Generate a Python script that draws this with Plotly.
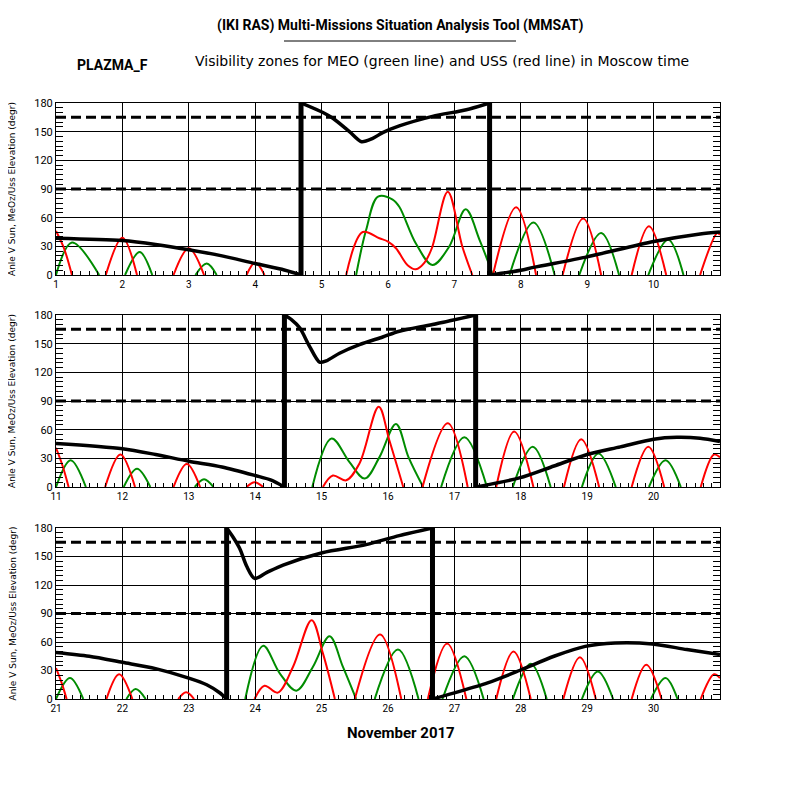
import plotly.graph_objects as go

# ---------------- data ----------------
# Panel ranges (days of November 2017)
PANEL_RANGES = [(1, 11), (11, 21), (21, 31)]
PANEL_TICKS = [list(range(1, 11)), list(range(11, 21)), list(range(21, 31))]
Y_TICKS = [0, 30, 60, 90, 120, 150, 180]
DASHED_LEVELS = [90, 165]

# Angle vs Sun (black): segments separated by None
BLACK1_X = [1.0, 2.0, 2.5, 3.0, 3.5, 4.0, 4.4, 4.69, None,
            4.69, 5.02, 5.17, 5.42, 5.6, 5.77, 5.92, 6.17, 6.67, 7.18, 7.53, None,
            7.53, 8.0, 8.19, 9.0, 10.0, 10.7, 11.0]
BLACK1_Y = [38.5, 36, 32, 26.5, 20, 12, 6, 0, None,
            180, 170, 164, 150, 139.5, 143, 149, 156, 166, 173, 180, None,
            0, 5, 8, 19, 35, 43, 45]
BLACK2_X = [11.0, 12.0, 12.5, 13.0, 13.5, 14.0, 14.25, 14.44, None,
            14.44, 14.55, 14.67, 14.82, 14.97, 15.07, 15.27, 15.57, 15.92, 16.17, 16.67, 17.32, None,
            17.32, 17.98, 18.5, 19.0, 19.5, 20.0, 20.35, 20.7, 21.0]
BLACK2_Y = [45.5, 40, 34, 27, 21, 12, 7, 0, None,
            180, 175, 166.6, 147, 130.6, 132, 140, 149, 157, 163, 170, 180, None,
            0, 9.5, 22, 34, 42, 50, 52, 51, 47.6]
BLACK3_X = [21.0, 21.5, 22.0, 22.5, 23.0, 23.27, 23.47, 23.57, None,
            23.57, 23.67, 23.77, 23.87, 23.99, 24.17, 24.42, 25.01, 25.67, 26.17, 26.67, None,
            26.67, 27.0, 27.5, 27.98, 28.5, 28.97, 29.42, 29.98, 30.5, 31.0]
BLACK3_Y = [49, 45, 38.6, 32, 22, 15, 6.3, 0, None,
            180, 170, 158, 140, 127, 133, 141, 154, 162.5, 172, 180, None,
            0, 6.5, 17, 30, 45, 55.4, 59, 58, 52, 46.7]
JUMPS = [[4.69, 7.53], [14.44, 17.32], [23.57, 26.67]]

# USS elevation (red)
RED1_X = [1.0, 1.12, 1.24, None, 1.75, 2.0, 2.22, None, 2.77, 3.0, 3.23, None,
          3.87, 4.0, 4.14, None,
          5.37, 5.62, 5.87, 6.0, 6.12, 6.3, 6.42, 6.55, 6.66, 6.9, 7.12, 7.27, None,
          7.58, 7.93, 8.23, None, 8.63, 8.94, 9.21, None, 9.67, 9.93, 10.19, None,
          10.70, 10.96, 11.0]
RED1_Y = [46, 28, 0, None, 0, 39, 0, None, 0, 28, 0, None,
          0, 13, 0, None,
          0, 45, 38.4, 35, 28, 10, 6, 13, 28, 87, 29.6, 0, None,
          0, 71, 0, None, 0, 59, 0, None, 0, 51, 0, None,
          0, 44, 42]
RED2_X = [11.0, 11.1, 11.19, None, 11.74, 11.97, 12.19, None, 12.77, 12.97, 13.17, None,
          13.87, 13.99, 14.12, None,
          15.02, 15.17, 15.37, 15.57, 15.86, 16.02, 16.23, None,
          16.52, 16.90, 17.20, None, 17.63, 17.90, 18.19, None, 18.65, 18.91, 19.18, None,
          19.67, 19.92, 20.16, None, 20.71, 20.91, 21.0]
RED2_Y = [41, 22, 0, None, 0, 34, 0, None, 0, 24, 0, None,
          0, 5, 0, None,
          0, 12, 7, 24.5, 84, 49, 0, None,
          0, 66.7, 0, None, 0, 58, 0, None, 0, 50, 0, None,
          0, 42, 0, None, 0, 34, 31]
RED3_X = [21.0, 21.08, 21.16, None, 21.76, 21.95, 22.15, None, 22.84, 22.96, 23.08, None,
          23.99, 24.14, 24.34, 24.57, 24.85, 25.02, 25.20, None,
          25.50, 25.88, 26.2, None, 26.60, 26.89, 27.18, None, 27.63, 27.89, 28.15, None,
          28.64, 28.89, 29.13, None, 29.67, 29.89, 30.12, None, 30.71, 30.91, 31.0]
RED3_Y = [32.6, 18, 0, None, 0, 26, 0, None, 0, 7, 0, None,
          0, 14, 6.7, 34, 83, 48, 0, None,
          0, 68, 0, None, 0, 58.5, 0, None, 0, 50, 0, None,
          0, 44, 0, None, 0, 36, 0, None, 0, 26, 22]

# MEO elevation (green)
GREEN1_X = [1.0, 1.24, 1.65, None, 2.04, 2.26, 2.45, None, 3.10, 3.27, 3.42, None,
            5.52, 5.67, 5.85, 6.07, 6.17, 6.42, 6.67, 6.92, 7.17, 7.38, 7.58, None,
            7.83, 8.19, 8.51, None, 8.88, 9.21, 9.48, None, 9.92, 10.22, 10.45]
GREEN1_Y = [0, 34, 0, None, 0, 24, 0, None, 0, 12, 0, None,
            0, 47, 82, 79, 71.5, 33, 10.5, 29.6, 68.7, 36.6, 0, None,
            0, 55, 0, None, 0, 44, 0, None, 0, 37, 0]
GREEN2_X = [11.0, 11.22, 11.45, None, 12.02, 12.22, 12.42, None, 13.09, 13.23, 13.37, None,
            14.86, 15.15, 15.42, 15.65, 15.87, 16.12, 16.31, 16.53, None,
            16.80, 17.15, 17.49, None, 17.88, 18.18, 18.45, None, 18.92, 19.17, 19.43, None,
            19.93, 20.18, 20.41]
GREEN2_Y = [0, 28, 0, None, 0, 19, 0, None, 0, 8, 0, None,
            0, 50.7, 26, 8.8, 31, 66, 31, 0, None,
            0, 52, 0, None, 0, 42, 0, None, 0, 35, 0, None,
            0, 28, 0]
GREEN3_X = [21.0, 21.21, 21.41, None, 22.06, 22.20, 22.35, None,
            23.85, 24.12, 24.37, 24.62, 24.87, 25.12, 25.32, 25.52, None,
            25.80, 26.15, 26.46, None, 26.82, 27.15, 27.44, None, 27.88, 28.15, 28.39, None,
            28.92, 29.16, 29.39, None, 29.96, 30.18, 30.36]
GREEN3_Y = [0, 22, 0, None, 0, 10.5, 0, None,
            0, 56, 27, 8.8, 34, 66, 34, 0, None,
            0, 52, 0, None, 0, 45, 0, None, 0, 37, 0, None,
            0, 29, 0, None, 0, 22, 0]

BLACKS = [(BLACK1_X, BLACK1_Y), (BLACK2_X, BLACK2_Y), (BLACK3_X, BLACK3_Y)]
REDS = [(RED1_X, RED1_Y), (RED2_X, RED2_Y), (RED3_X, RED3_Y)]
GREENS = [(GREEN1_X, GREEN1_Y), (GREEN2_X, GREEN2_Y), (GREEN3_X, GREEN3_Y)]

TITLE = "(IKI RAS) Multi-Missions Situation Analysis Tool (MMSAT)"
SUBTITLE = "Visibility zones for MEO (green line) and USS (red line) in Moscow time"
OBJECT_NAME = "PLAZMA_F"
XLABEL = "November 2017"
YLABEL = "Anle V Sun, MeOz/Uss Elevation (degr)"

# ---------------- styling ----------------
W = H = 800
OFF = 8  # the page body margin shifts the figure by this many pixels
BOLD = "Roboto, Liberation Sans, sans-serif"
PLAIN = "DejaVu Sans, sans-serif"
TICKF = "Roboto, Liberation Sans, sans-serif"
RED = "#ff0000"
GREEN = "#008c00"


def px_x(p):
    return (p - OFF) / W


def px_y(p):
    return 1 - (p - OFF) / H


# panel pixel boxes (top, bottom) in the photographed page
X_PX = (56, 720)
Y_PX = [(103, 275), (315, 487), (528, 699)]

fig = go.Figure()
layout = dict(
    width=W, height=H, margin=dict(l=0, r=0, t=0, b=0, pad=0, autoexpand=False),
    paper_bgcolor="white", plot_bgcolor="white", showlegend=False,
)

for i in range(3):
    sfx = "" if i == 0 else str(i + 1)
    xa, ya = "x" + sfx, "y" + sfx
    x0, x1 = PANEL_RANGES[i]
    top, bot = Y_PX[i]
    layout["xaxis" + sfx] = dict(
        domain=[px_x(X_PX[0]), px_x(X_PX[1])], range=[x0, x1], anchor=ya,
        tickvals=PANEL_TICKS[i], ticktext=[str(t) for t in PANEL_TICKS[i]],
        showgrid=True, gridcolor="black", gridwidth=1, zeroline=False,
        showline=True, linecolor="black", linewidth=1, mirror=True,
        ticks="inside", ticklen=5, tickcolor="black", automargin=False,
        minor=dict(dtick=0.125, tick0=x0, ticks="inside", ticklen=4, tickcolor="black", showgrid=False),
        tickfont=dict(family=TICKF, size=10, color="black"),
    )
    layout["yaxis" + sfx] = dict(
        domain=[px_y(bot), px_y(top)], range=[0, 180], anchor=xa,
        tickvals=Y_TICKS, ticktext=[str(t) for t in Y_TICKS],
        showgrid=True, gridcolor="black", gridwidth=1, zeroline=False,
        showline=True, linecolor="black", linewidth=1, mirror="allticks",
        ticks="inside", ticklen=7, tickcolor="black", automargin=False,
        minor=dict(dtick=5, tick0=0, ticks="inside", ticklen=7, tickcolor="black", showgrid=False),
        tickfont=dict(family=TICKF, size=11, color="black"),
    )
    # dashed reference levels
    for lev in DASHED_LEVELS:
        fig.add_trace(go.Scatter(x=[x0, x1], y=[lev, lev], mode="lines", xaxis=xa, yaxis=ya,
                                 line=dict(color="black", width=3, dash="10px,5px"),
                                 hoverinfo="skip"))
    gx, gy = GREENS[i]
    fig.add_trace(go.Scatter(x=gx, y=gy, mode="lines", xaxis=xa, yaxis=ya,
                             line=dict(color=GREEN, width=2, shape="spline", smoothing=1.0)))
    rx, ry = REDS[i]
    fig.add_trace(go.Scatter(x=rx, y=ry, mode="lines", xaxis=xa, yaxis=ya,
                             line=dict(color=RED, width=2, shape="spline", smoothing=1.0)))
    bx, by = BLACKS[i]
    fig.add_trace(go.Scatter(x=bx, y=by, mode="lines", xaxis=xa, yaxis=ya,
                             line=dict(color="black", width=3.5, shape="spline", smoothing=0.8)))
    jx, jy = [], []
    for j in JUMPS[i]:
        jx += [j, j, None]
        jy += [0, 180, None]
    fig.add_trace(go.Scatter(x=jx, y=jy, mode="lines", xaxis=xa, yaxis=ya,
                             line=dict(color="black", width=5)))

annotations = [
    dict(text="<b>" + TITLE + "</b>", x=px_x(400), y=px_y(26), xref="paper", yref="paper",
         showarrow=False, font=dict(family=BOLD, size=14, color="black"),
         xanchor="center", yanchor="middle"),
    dict(text="<b>" + OBJECT_NAME + "</b>", x=px_x(112), y=px_y(65), xref="paper", yref="paper",
         showarrow=False, font=dict(family=BOLD, size=14, color="black"),
         xanchor="center", yanchor="middle"),
    dict(text=SUBTITLE, x=px_x(442), y=px_y(61), xref="paper", yref="paper",
         showarrow=False, font=dict(family=PLAIN, size=14, color="black"),
         xanchor="center", yanchor="middle"),
    dict(text="<b>" + XLABEL + "</b>", x=px_x(401), y=px_y(733), xref="paper", yref="paper",
         showarrow=False, font=dict(family=BOLD, size=15, color="black"),
         xanchor="center", yanchor="middle"),
]
for i in range(3):
    top, bot = Y_PX[i]
    annotations.append(dict(text=YLABEL, x=px_x(12), y=px_y((top + bot) / 2),
                            xref="paper", yref="paper", showarrow=False, textangle=-90,
                            font=dict(family=PLAIN, size=9, color="black"),
                            xanchor="center", yanchor="middle"))
layout["annotations"] = annotations
layout["shapes"] = [dict(type="line", xref="paper", yref="paper",
                         x0=px_x(284), x1=px_x(516), y0=px_y(41), y1=px_y(41),
                         line=dict(color="black", width=1))]
fig.update_layout(**layout)
fig.write_html("out.html")
